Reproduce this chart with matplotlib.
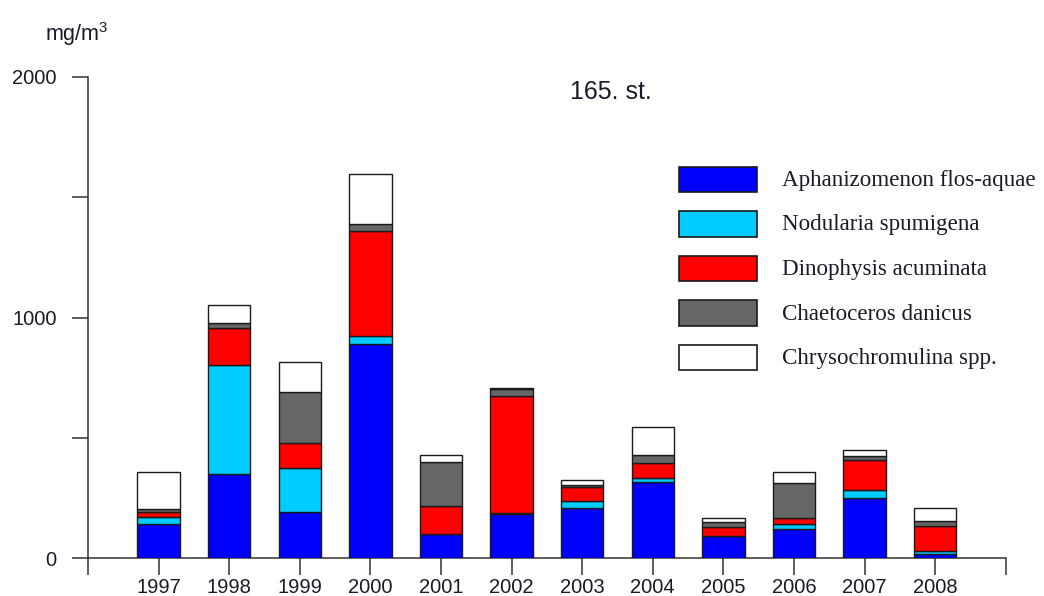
import matplotlib
matplotlib.use("Agg")
import matplotlib.pyplot as plt
from matplotlib.patches import Rectangle
import numpy as np

years = ["1997", "1998", "1999", "2000", "2001", "2002", "2003", "2004",
         "2005", "2006", "2007", "2008"]
species = ["Aphanizomenon flos-aquae", "Nodularia spumigena",
           "Dinophysis acuminata", "Chaetoceros danicus", "Chrysochromulina spp."]
aphanizomenon = [141, 351, 193, 891, 99, 183, 207, 317, 91, 123, 252, 19]
nodularia = [32, 453, 181, 32, 4, 4, 31, 18, 2, 20, 32, 13]
dinophysis = [18, 151, 106, 438, 115, 487, 59, 60, 39, 25, 125, 104]
chaetoceros = [14, 22, 209, 28, 181, 29, 8, 35, 20, 144, 18, 21]
chrysochromulina = [153, 74, 126, 208, 30, 5, 19, 116, 14, 47, 23, 52]
colors = ["#0000FF", "#00CCFF", "#FF0000", "#666666", "#FFFFFF"]
y_ticks = [0, 500, 1000, 1500, 2000]
y_labels = ["0", "", "1000", "", "2000"]

plt.rcParams["font.family"] = ["Liberation Sans", "DejaVu Sans"]
plt.rcParams["mathtext.default"] = "regular"

W, H = 1044, 596
fig = plt.figure(figsize=(W / 100, H / 100), dpi=100)
ax = fig.add_axes([88 / W, (H - 558.3) / H, (1005.7 - 88) / W, (558.3 - 77) / H])

series = [aphanizomenon, nodularia, dinophysis, chaetoceros, chrysochromulina]
x = np.arange(len(years))
bottom = np.zeros(len(years))
for vals, c in zip(series, colors):
    v = np.array(vals, dtype=float)
    ax.bar(x, v, width=0.6, bottom=bottom, color=c, edgecolor="#1a1a1a",
           linewidth=1.0, zorder=3)
    bottom += v

ax.set_xlim(-1, len(years))
ax.set_ylim(0, 2000)

spine_c = "#333333"
for s in ["top", "right"]:
    ax.spines[s].set_visible(False)
for s in ["left", "bottom"]:
    ax.spines[s].set_color(spine_c)
    ax.spines[s].set_linewidth(1.1)

xt = [-1] + list(x) + [len(years)]
ax.set_xticks(xt)
ax.set_xticklabels([""] + years + [""])
ax.tick_params(axis="x", direction="out", length=12, width=1.1, color=spine_c,
               pad=2.5, labelsize=14.5, labelcolor="#1a1a2a")
ax.set_yticks(y_ticks)
ax.set_yticklabels(y_labels)
ax.tick_params(axis="y", direction="out", length=11.5, width=1.1, color=spine_c,
               pad=11, labelsize=14.5, labelcolor="#1a1a2a")

fig.text(611 / W, 1 - 92 / H, "165. st.", ha="center", va="center",
         fontsize=18, color="#1a1a2a")
fig.text(45 / W, 1 - 34 / H, "mg/m$^3$", ha="left", va="center",
         fontsize=15.5, color="#1a1a2a")

# legend
tops = [166.7, 210.9, 255.5, 300.1, 344.7]
for top, c, name in zip(tops, colors, species):
    r = Rectangle((679 / W, 1 - (top + 25.6) / H), 78 / W, 25.6 / H,
                  transform=fig.transFigure, facecolor=c, edgecolor="#1a1a1a",
                  linewidth=1.2)
    fig.add_artist(r)
    fig.text(782 / W, 1 - (top + 14) / H, name, ha="left", va="center",
             fontsize=16.6, family=["Liberation Serif", "DejaVu Serif"],
             color="#1a1a2a")

fig.savefig("out.png", dpi=100)
